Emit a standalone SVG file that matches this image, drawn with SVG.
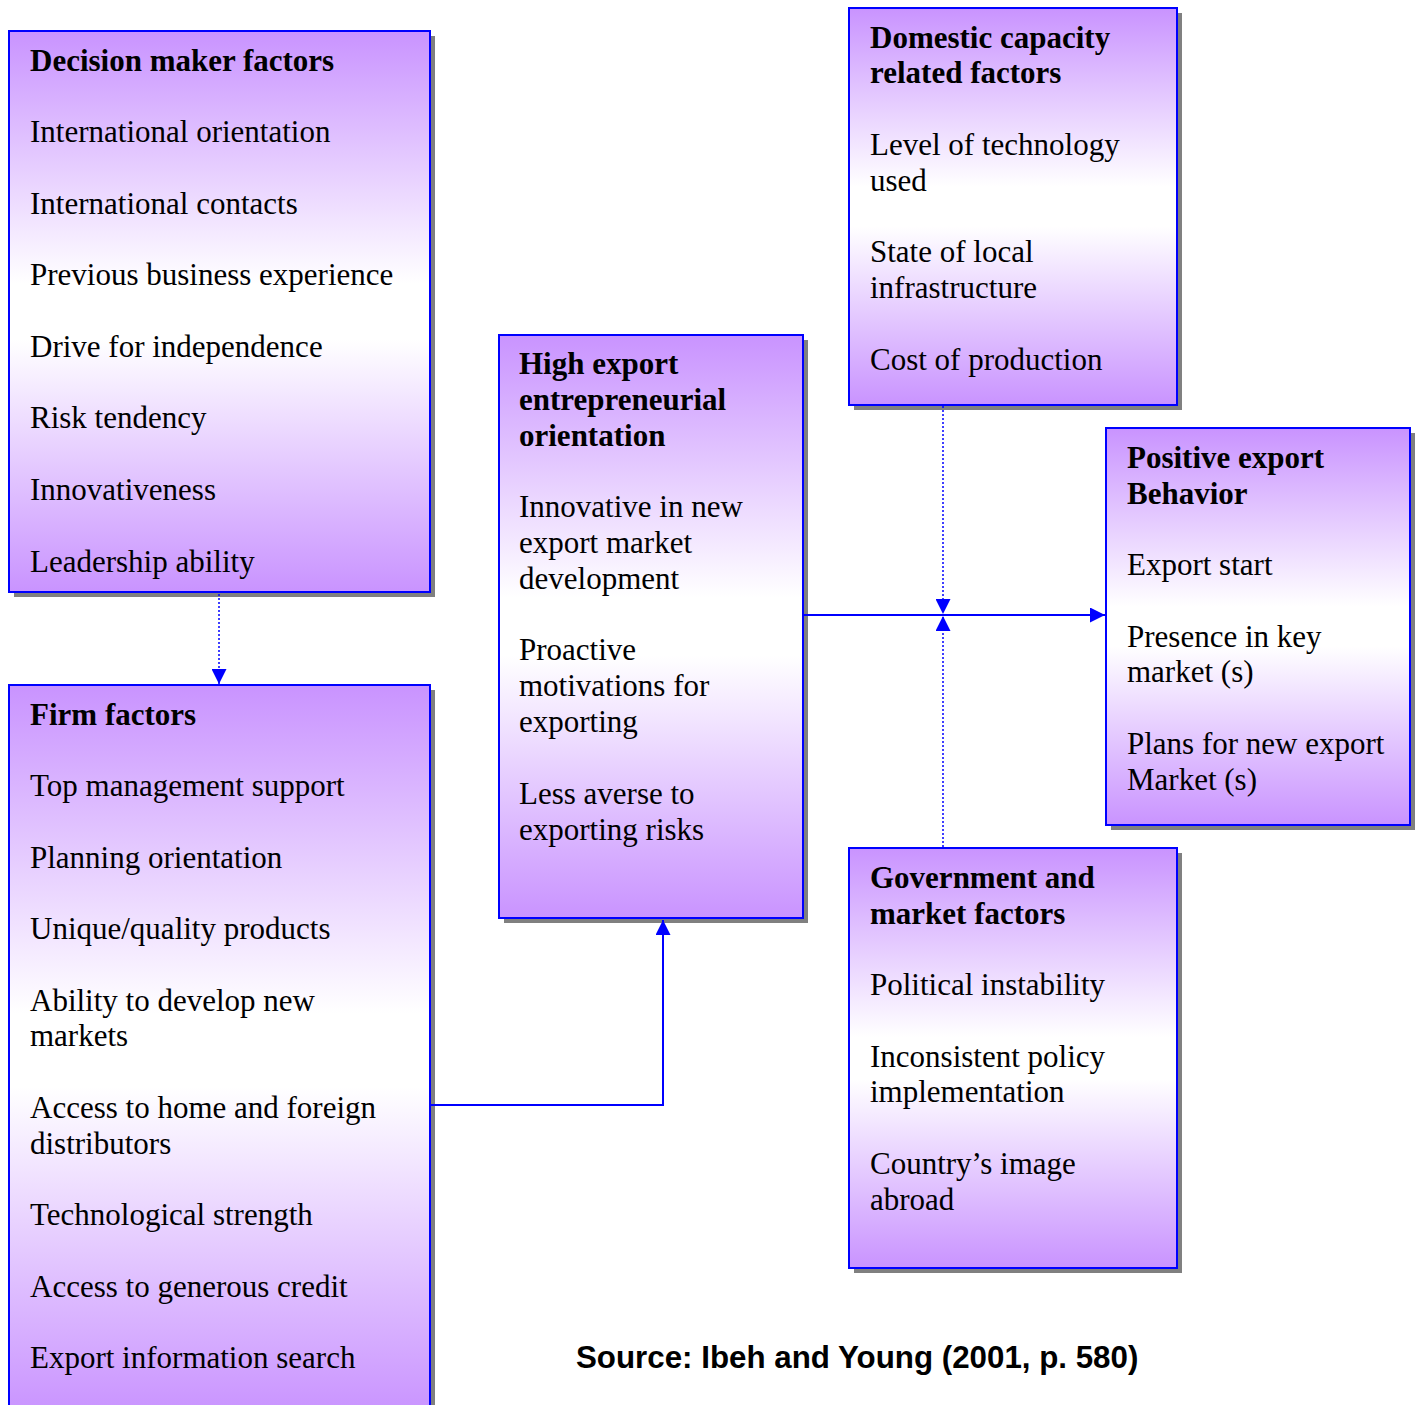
<svg xmlns="http://www.w3.org/2000/svg" width="1418" height="1405" viewBox="0 0 1418 1405">
  <defs>
    <linearGradient id="fill" x1="0" y1="0" x2="0" y2="1">
      <stop offset="0" stop-color="#c993ff"/>
      <stop offset="0.45" stop-color="#ffffff"/>
      <stop offset="0.55" stop-color="#ffffff"/>
      <stop offset="1" stop-color="#c993ff"/>
    </linearGradient>
    <marker id="arrow" viewBox="0 0 10 10" refX="10" refY="5" markerWidth="15" markerHeight="15" markerUnits="userSpaceOnUse" orient="auto">
      <path d="M0,0 L10,5 L0,10 z" fill="#0000ff"/>
    </marker>
  </defs>
  <style>
    .shadow { fill: #808080; }
    .box { fill: url(#fill); stroke: #0000ff; stroke-width: 2; }
    text { font-family: "Liberation Serif", "Times New Roman", serif; font-size: 31px; fill: #000; }
    .title { font-weight: bold; }
    .src { font-family: "Liberation Sans", Arial, sans-serif; font-weight: bold; font-size: 31.3px; }
    .link { fill: none; stroke: #0000ff; stroke-width: 2; }
    .dot { stroke-dasharray: 2 2; stroke-width: 1.5; }
  </style>

  <rect width="1418" height="1405" fill="#ffffff"/>

  <!-- Decision maker factors -->
  <g id="decision-maker">
    <rect class="shadow" x="14" y="36" width="421" height="561"/>
    <rect class="box" x="9" y="31" width="421" height="561"/>
    <text x="30" y="71" class="title">Decision maker factors</text>
    <text x="30" y="142">International orientation</text>
    <text x="30" y="214">International contacts</text>
    <text x="30" y="285">Previous business experience</text>
    <text x="30" y="357">Drive for independence</text>
    <text x="30" y="428">Risk tendency</text>
    <text x="30" y="500">Innovativeness</text>
    <text x="30" y="572">Leadership ability</text>
  </g>

  <!-- Firm factors -->
  <g id="firm">
    <rect class="shadow" x="14" y="690" width="421" height="730"/>
    <rect class="box" x="9" y="685" width="421" height="730"/>
    <text x="30" y="725" class="title">Firm factors</text>
    <text x="30" y="796">Top management support</text>
    <text x="30" y="868">Planning orientation</text>
    <text x="30" y="939">Unique/quality products</text>
    <text x="30" y="1011">Ability to develop new</text>
    <text x="30" y="1046">markets</text>
    <text x="30" y="1118">Access to home and foreign</text>
    <text x="30" y="1154">distributors</text>
    <text x="30" y="1225">Technological strength</text>
    <text x="30" y="1297">Access to generous credit</text>
    <text x="30" y="1368">Export information search</text>
  </g>

  <!-- High export entrepreneurial orientation -->
  <g id="entrepreneurial">
    <rect class="shadow" x="504" y="340" width="304" height="583"/>
    <rect class="box" x="499" y="335" width="304" height="583"/>
    <text x="519" y="374" class="title">High export</text>
    <text x="519" y="410" class="title">entrepreneurial</text>
    <text x="519" y="446" class="title">orientation</text>
    <text x="519" y="517">Innovative in new</text>
    <text x="519" y="553">export market</text>
    <text x="519" y="589">development</text>
    <text x="519" y="660">Proactive</text>
    <text x="519" y="696">motivations for</text>
    <text x="519" y="732">exporting</text>
    <text x="519" y="804">Less averse to</text>
    <text x="519" y="840">exporting risks</text>
  </g>

  <!-- Domestic capacity related factors -->
  <g id="domestic">
    <rect class="shadow" x="854" y="13" width="328" height="397"/>
    <rect class="box" x="849" y="8" width="328" height="397"/>
    <text x="870" y="48" class="title">Domestic capacity</text>
    <text x="870" y="83" class="title">related factors</text>
    <text x="870" y="155">Level of technology</text>
    <text x="870" y="191">used</text>
    <text x="870" y="262">State of local</text>
    <text x="870" y="298">infrastructure</text>
    <text x="870" y="370">Cost of production</text>
  </g>

  <!-- Positive export behavior -->
  <g id="positive">
    <rect class="shadow" x="1111" y="433" width="304" height="397"/>
    <rect class="box" x="1106" y="428" width="304" height="397"/>
    <text x="1127" y="468" class="title">Positive export</text>
    <text x="1127" y="504" class="title">Behavior</text>
    <text x="1127" y="575">Export start</text>
    <text x="1127" y="647">Presence in key</text>
    <text x="1127" y="682">market (s)</text>
    <text x="1127" y="754">Plans for new export</text>
    <text x="1127" y="790">Market (s)</text>
  </g>

  <!-- Government and market factors -->
  <g id="government">
    <rect class="shadow" x="854" y="853" width="328" height="420"/>
    <rect class="box" x="849" y="848" width="328" height="420"/>
    <text x="870" y="888" class="title">Government and</text>
    <text x="870" y="924" class="title">market factors</text>
    <text x="870" y="995">Political instability</text>
    <text x="870" y="1067">Inconsistent policy</text>
    <text x="870" y="1102">implementation</text>
    <text x="870" y="1174">Country’s image</text>
    <text x="870" y="1210">abroad</text>
  </g>

  <!-- Connectors -->
  <g id="connectors">
    <path class="link dot" d="M219,594 L219,684" marker-end="url(#arrow)"/>
    <path class="link" d="M431,1105 L663,1105 L663,920" marker-end="url(#arrow)"/>
    <path class="link" d="M804,615 L1105,615" marker-end="url(#arrow)"/>
    <path class="link dot" d="M943,406 L943,614" marker-end="url(#arrow)"/>
    <path class="link dot" d="M943,847 L943,616" marker-end="url(#arrow)"/>
  </g>

  <text x="576" y="1368" class="src">Source: Ibeh and Young (2001, p. 580)</text>
</svg>
